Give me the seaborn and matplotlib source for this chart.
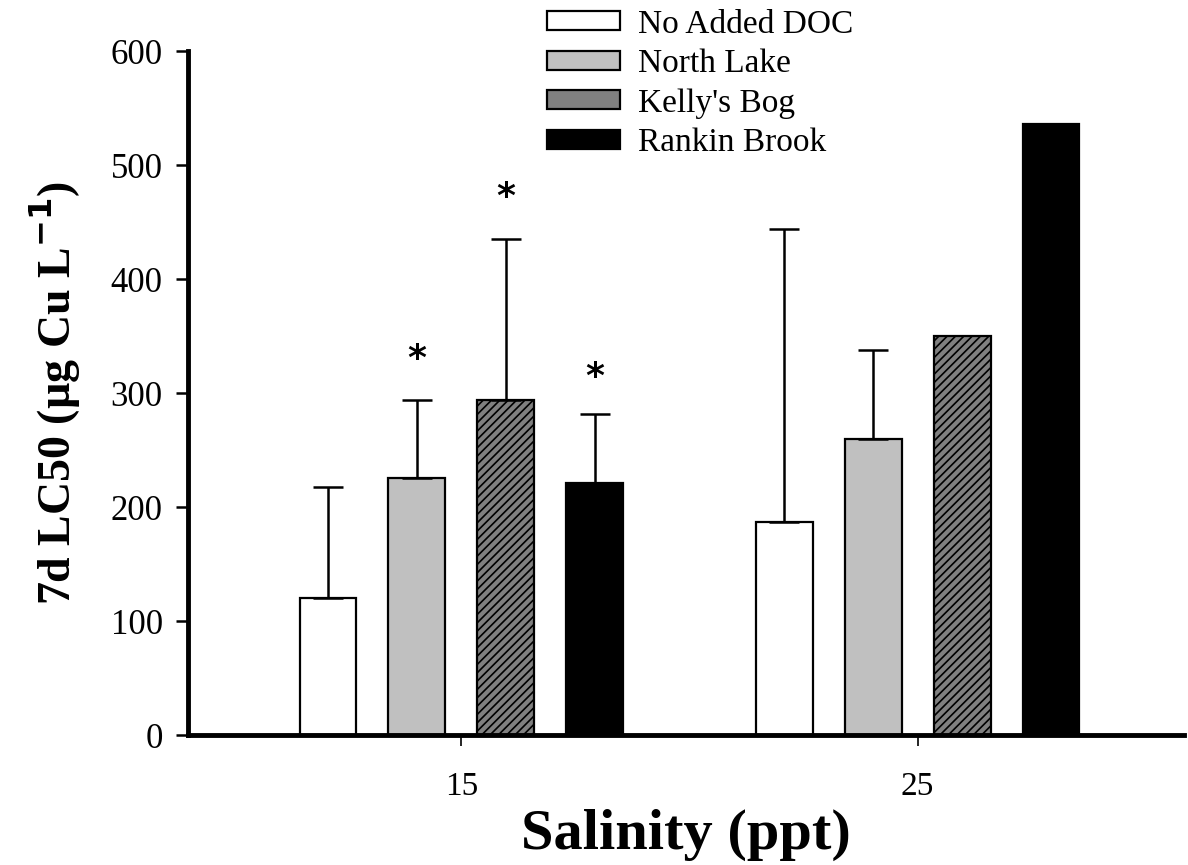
import matplotlib
matplotlib.use("Agg")
import matplotlib.pyplot as plt
import seaborn as sns
import pandas as pd
import numpy as np

# LC50 data (µg Cu/L) by salinity and DOC source
salinity = ["15", "25"]
sources = ["No Added DOC", "North Lake", "Kelly's Bog", "Rankin Brook"]
lc50_15 = [120, 226, 294, 221]
lc50_25 = [187, 260, 350, 536]
upper_15 = [218, 294, 435, 282]
upper_25 = [444, 338, np.nan, np.nan]
star_15 = [np.nan, 330, 472, 314]

sns.set_theme(style="white")
plt.rcParams["font.family"] = ["Liberation Serif", "DejaVu Serif"]
plt.rcParams["hatch.linewidth"] = 1.2
for key in ["text.color", "axes.labelcolor", "xtick.color", "ytick.color"]:
    plt.rcParams[key] = "black"

rows = []
for s, vals in zip(salinity, [lc50_15, lc50_25]):
    for src, v in zip(sources, vals):
        rows.append({"Salinity": s, "Source": src, "LC50": v})
df = pd.DataFrame(rows)

fills = {"No Added DOC": "white", "North Lake": "#c0c0c0",
         "Kelly's Bog": "#808080", "Rankin Brook": "black"}

fig = plt.figure(figsize=(11.88, 8.65), dpi=100)
ax = fig.add_axes([0.158, 0.150, 0.839, 0.791])

sns.barplot(data=df, x="Salinity", y="LC50", hue="Source", order=salinity,
            hue_order=sources, palette=fills, width=0.78, gap=0.36,
            errorbar=None, edgecolor="black", linewidth=1.6, ax=ax,
            saturation=1)

bar_groups = list(ax.containers)
for cont, src in zip(bar_groups, sources):
    for bar in cont:
        if src == "Kelly's Bog":
            bar.set_hatch("////")

uppers = [upper_15, upper_25]
for hi, cont in enumerate(bar_groups):
    for gi, bar in enumerate(cont):
        top = uppers[gi][hi]
        xc = bar.get_x() + bar.get_width() / 2
        h = bar.get_height()
        if not np.isnan(top):
            ax.errorbar([xc], [h], yerr=[[0], [top - h]], fmt="none",
                        ecolor="black", elinewidth=1.8, capsize=11,
                        capthick=1.8, zorder=1)
        if gi == 0 and not np.isnan(star_15[hi]):
            ax.text(xc, star_15[hi], "*", ha="center", va="center",
                    fontsize=26, fontweight="bold", family="DejaVu Sans",
                    color="black")

ax.set_ylim(0, 600)
ax.set_xlim(-0.6, 1.585)
ax.set_yticks(range(0, 601, 100))
ax.tick_params(axis="y", which="major", direction="out", length=9, width=1.8,
               labelsize=25, left=True, pad=9, colors="black")
ax.tick_params(axis="x", which="major", direction="out", length=8, width=1.2,
               labelsize=24, bottom=True, pad=18, colors="black")

for side in ["top", "right"]:
    ax.spines[side].set_visible(False)
for side in ["left", "bottom"]:
    ax.spines[side].set_linewidth(3.5)
    ax.spines[side].set_color("black")

ax.set_xlabel("Salinity (ppt)", fontsize=42, fontweight="bold", labelpad=5,
              color="black")
ax.set_ylabel("7d LC50 (µg Cu L$^{\\mathbf{-1}}$)", fontsize=33,
              fontweight="bold", labelpad=20, color="black")

leg = ax.legend(loc="upper left", bbox_to_anchor=(0.36, 1.061), frameon=False,
                fontsize=24, handlelength=2.2, handleheight=0.5,
                labelspacing=0.27, handletextpad=0.55, borderaxespad=0,
                borderpad=0)
for t in leg.get_texts():
    t.set_color("black")

ax.grid(False)
fig.savefig("out.png", dpi=100)
